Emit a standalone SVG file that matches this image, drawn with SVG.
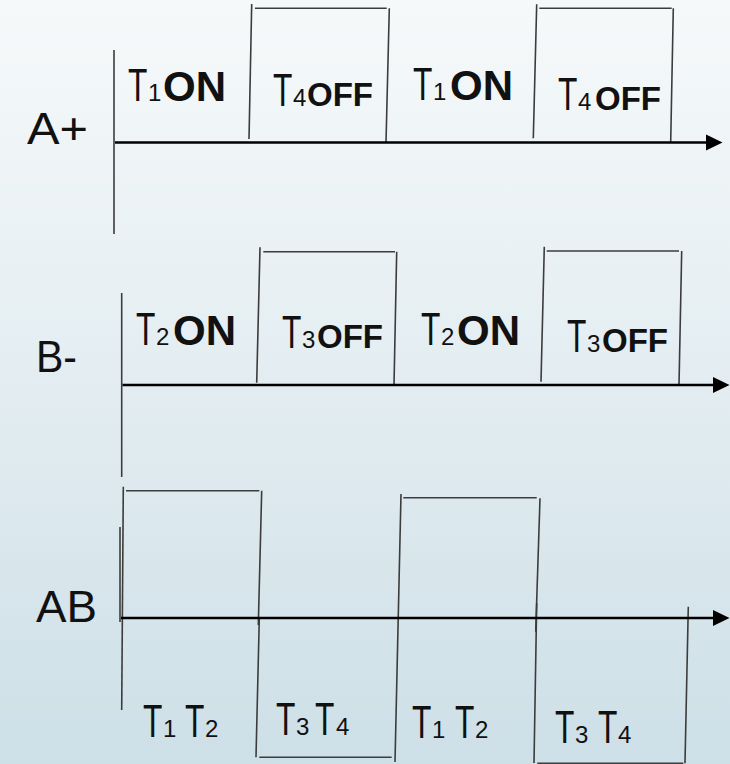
<svg xmlns="http://www.w3.org/2000/svg" width="730" height="764" viewBox="0 0 730 764">
<defs>
<linearGradient id="bg" x1="0" y1="0" x2="0" y2="1">
<stop offset="0" stop-color="#f6f9fa"/>
<stop offset="0.5" stop-color="#e3edf1"/>
<stop offset="1" stop-color="#cddfe7"/>
</linearGradient>
<marker id="arr" markerUnits="userSpaceOnUse" markerWidth="17" markerHeight="17" refX="0" refY="8" orient="auto" viewBox="0 0 17 16">
<path d="M0,0 L16.5,8 L0,16 Z" fill="#000"/>
</marker>
<style>
.ax{stroke:#000;stroke-width:2.6;fill:none}
.ln{stroke:#3c3c3c;stroke-width:1.6;fill:none}
text{font-family:"Liberation Sans",Arial,sans-serif;fill:#111}
.big{font-size:46px}
.sub{font-size:24px}
.on{font-size:42px;font-weight:bold}
.off{font-size:33px;font-weight:bold}
.nm{font-size:45px}
</style>
</defs>
<rect width="730" height="764" fill="url(#bg)"/>

<g id="row-a">
<text id="label-a" class="nm" x="27" y="144" textLength="61" lengthAdjust="spacingAndGlyphs">A+</text>
<g class="ln">
<line x1="114" y1="50" x2="114" y2="234"/>
<line x1="251.7" y1="4" x2="249" y2="139"/>
<line x1="255" y1="8.3" x2="386.7" y2="8.3"/>
<line x1="389.3" y1="8.3" x2="386" y2="142.7"/>
<line x1="536.7" y1="4.3" x2="533.3" y2="138.3"/>
<line x1="539.3" y1="8.3" x2="671.7" y2="8.3"/>
<line x1="673.3" y1="8.3" x2="670.7" y2="142"/>
</g>
<g id="a1"><text class="big" transform="translate(128 101) scale(0.69 1)">T</text><text y="101"><tspan class="sub" x="148">1</tspan><tspan class="on" x="163">ON</tspan></text></g>
<g id="a2"><text class="big" transform="translate(273 106) scale(0.69 1)">T</text><text y="106"><tspan class="sub" x="293">4</tspan><tspan class="off" x="307">OFF</tspan></text></g>
<g id="a3"><text class="big" transform="translate(413 100) scale(0.69 1)">T</text><text y="100"><tspan class="sub" x="433">1</tspan><tspan class="on" x="450">ON</tspan></text></g>
<g id="a4"><text class="big" transform="translate(558 110) scale(0.69 1)">T</text><text y="110"><tspan class="sub" x="578">4</tspan><tspan class="off" x="595">OFF</tspan></text></g>
</g>

<g id="row-b">
<text id="label-b" class="nm" x="36" y="372" textLength="41" lengthAdjust="spacingAndGlyphs">B-</text>
<g class="ln">
<line x1="121.7" y1="293" x2="121.7" y2="477"/>
<line x1="260" y1="247.3" x2="256.7" y2="382.7"/>
<line x1="263.3" y1="251.7" x2="395" y2="251.7"/>
<line x1="396.7" y1="251.7" x2="394" y2="385"/>
<line x1="544.3" y1="246.7" x2="541" y2="381.7"/>
<line x1="546.7" y1="251" x2="679" y2="251"/>
<line x1="681.7" y1="251" x2="679" y2="385"/>
</g>
<g id="b1"><text class="big" transform="translate(136 345) scale(0.69 1)">T</text><text y="345"><tspan class="sub" x="156">2</tspan><tspan class="on" x="173">ON</tspan></text></g>
<g id="b2"><text class="big" transform="translate(282 348) scale(0.69 1)">T</text><text y="348"><tspan class="sub" x="302">3</tspan><tspan class="off" x="317">OFF</tspan></text></g>
<g id="b3"><text class="big" transform="translate(421 345) scale(0.69 1)">T</text><text y="345"><tspan class="sub" x="441">2</tspan><tspan class="on" x="457">ON</tspan></text></g>
<g id="b4"><text class="big" transform="translate(567 352) scale(0.69 1)">T</text><text y="352"><tspan class="sub" x="587">3</tspan><tspan class="off" x="602">OFF</tspan></text></g>
</g>

<g id="row-ab">
<text id="label-ab" class="nm" x="36" y="622" textLength="61" lengthAdjust="spacingAndGlyphs" style="font-size:44px">AB</text>
<g class="ln">
<line x1="123.3" y1="486.7" x2="121.7" y2="710"/>
<line x1="120" y1="527" x2="120" y2="622"/>
<line x1="126" y1="490.7" x2="259.3" y2="490.7"/>
<line x1="261.7" y1="490.7" x2="258.3" y2="625"/>
<line x1="259.3" y1="618" x2="256" y2="757.3"/>
<line x1="259.3" y1="757.3" x2="391.7" y2="757.3"/>
<line x1="401" y1="494" x2="395" y2="762"/>
<line x1="403.3" y1="497.7" x2="536.7" y2="497.7"/>
<line x1="540" y1="498.3" x2="535.7" y2="631.7"/>
<line x1="536.7" y1="603" x2="534" y2="763"/>
<line x1="537.3" y1="763.3" x2="683.3" y2="763.3"/>
<line x1="688.3" y1="606.7" x2="685" y2="763.3"/>
</g>
<g id="c1"><text class="big" transform="translate(143 737) scale(0.69 1)">T</text><text class="sub" x="163" y="737">1</text><text class="big" transform="translate(185 737) scale(0.69 1)">T</text><text class="sub" x="205" y="737">2</text></g>
<g id="c2"><text class="big" transform="translate(276 735) scale(0.69 1)">T</text><text class="sub" x="296" y="735">3</text><text class="big" transform="translate(315 735) scale(0.69 1)">T</text><text class="sub" x="336" y="735">4</text></g>
<g id="c3"><text class="big" transform="translate(412 738) scale(0.69 1)">T</text><text class="sub" x="432" y="738">1</text><text class="big" transform="translate(455 738) scale(0.69 1)">T</text><text class="sub" x="475" y="738">2</text></g>
<g id="c4"><text class="big" transform="translate(555 743) scale(0.69 1)">T</text><text class="sub" x="575" y="743">3</text><text class="big" transform="translate(598 743) scale(0.69 1)">T</text><text class="sub" x="618" y="743">4</text></g>
</g>

<g id="connectors">
<line class="ax" x1="115" y1="142.5" x2="706" y2="142.5" marker-end="url(#arr)"/>
<line class="ax" x1="122.5" y1="385" x2="713" y2="385" marker-end="url(#arr)"/>
<line class="ax" x1="121" y1="618" x2="713" y2="618" marker-end="url(#arr)"/>
</g>
</svg>
